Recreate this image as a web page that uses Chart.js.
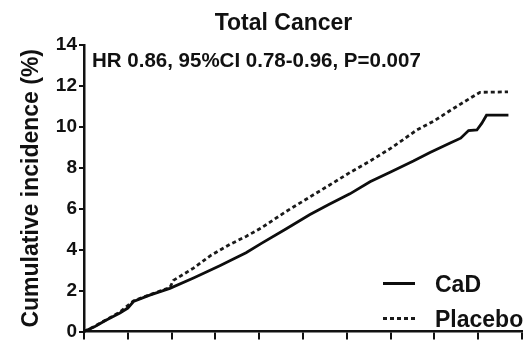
<!DOCTYPE html>
<html>
<head>
<meta charset="utf-8">
<title>Total Cancer</title>
<script src="https://cdn.jsdelivr.net/npm/chart.js@4.4.1/dist/chart.umd.min.js"></script>
<style>
  html, body { margin: 0; padding: 0; background: #ffffff; }
  #wrap { width: 526px; height: 345px; position: relative; }
</style>
</head>
<body>
<div id="wrap"><canvas id="chart" width="526" height="345"></canvas></div>
<script>
// Follow-up time (x) and cumulative incidence in % (y) for each arm
const cadTime = [0, 0.25, 0.5, 0.82, 1.0, 1.13, 1.5, 1.96, 2.5, 3.1, 3.33, 3.7, 4.06, 4.6, 5.16, 5.6, 6.07, 6.53, 7.0, 7.52, 7.9, 8.36, 8.6, 8.78, 8.97, 9.08, 9.19, 9.69];
const cadIncidence = [0, 0.25, 0.55, 0.91, 1.15, 1.47, 1.78, 2.11, 2.62, 3.22, 3.46, 3.85, 4.32, 5.0, 5.72, 6.22, 6.73, 7.32, 7.8, 8.33, 8.75, 9.21, 9.45, 9.82, 9.85, 10.17, 10.57, 10.57];

const placeboTime = [0, 0.25, 0.5, 0.82, 1.13, 1.5, 1.96, 2.04, 2.5, 2.88, 3.33, 3.7, 4.06, 4.6, 5.16, 5.6, 6.07, 6.53, 7.0, 7.6, 8.0, 8.36, 8.7, 9.04, 9.68];
const placeboIncidence = [0, 0.27, 0.57, 0.96, 1.5, 1.8, 2.15, 2.5, 3.1, 3.7, 4.26, 4.65, 5.08, 5.85, 6.58, 7.15, 7.77, 8.33, 8.95, 9.85, 10.3, 10.8, 11.25, 11.69, 11.71];

const yTickValues = [0, 2, 4, 6, 8, 10, 12, 14];
const xTickValues = [0, 1, 2, 3, 4, 5, 6, 7, 8, 9, 10];

const seriesNames = ['CaD', 'Placebo'];
const chartTitle = 'Total Cancer';
const statsNote = 'HR 0.86, 95%CI 0.78-0.96, P=0.007';
const yAxisTitle = 'Cumulative incidence (%)';

const FONT = '"Liberation Sans", Arial, Helvetica, sans-serif';
const INK = '#111111';

function toPoints(xs, ys) {
  return xs.map((x, i) => ({ x: x, y: ys[i] }));
}

// Title, statistics note and in-plot legend
const annotationPlugin = {
  id: 'annotationText',
  afterDraw(chart) {
    const ctx = chart.ctx;
    ctx.save();
    ctx.fillStyle = INK;
    ctx.textBaseline = 'alphabetic';

    ctx.font = 'bold 23px ' + FONT;
    ctx.textAlign = 'center';
    ctx.fillText(chartTitle, 283.5, 29.5);

    ctx.font = 'bold 20.5px ' + FONT;
    ctx.textAlign = 'left';
    ctx.fillText(statsNote, 92, 66.5);

    const rows = [283.5, 318.5];
    chart.data.datasets.forEach((ds, i) => {
      const y = rows[i];
      ctx.beginPath();
      ctx.strokeStyle = ds.borderColor;
      ctx.lineWidth = 3;
      ctx.setLineDash(ds.borderDash || []);
      ctx.moveTo(383, y);
      ctx.lineTo(415, y);
      ctx.stroke();
      ctx.setLineDash([]);
      ctx.font = 'bold 23px ' + FONT;
      ctx.fillStyle = INK;
      ctx.fillText(ds.label, 435, y + 8.3);
    });
    ctx.restore();
  }
};

new Chart(document.getElementById('chart'), {
  type: 'line',
  data: {
    datasets: [
      {
        label: seriesNames[0],
        data: toPoints(cadTime, cadIncidence),
        borderColor: '#0d0d0d',
        borderWidth: 2.8,
        pointRadius: 0,
        tension: 0,
        fill: false
      },
      {
        label: seriesNames[1],
        data: toPoints(placeboTime, placeboIncidence),
        borderColor: '#1a1a1a',
        borderWidth: 2.8,
        borderDash: [4, 3],
        pointRadius: 0,
        tension: 0,
        fill: false
      }
    ]
  },
  options: {
    responsive: false,
    animation: false,
    devicePixelRatio: 1,
    layout: { padding: { top: 45, right: 4, bottom: 0, left: 0 } },
    plugins: {
      legend: { display: false },
      title: { display: false },
      tooltip: { enabled: false }
    },
    scales: {
      x: {
        type: 'linear',
        min: 0,
        max: 10,
        afterBuildTicks: (scale) => { scale.ticks = xTickValues.map(v => ({ value: v })); },
        afterFit: (scale) => { scale.height = 8; },
        ticks: { display: false },
        grid: {
          drawOnChartArea: false,
          drawTicks: true,
          tickLength: 8,
          color: INK,
          lineWidth: 2
        },
        border: { display: true, color: INK, width: 2.5 }
      },
      y: {
        type: 'linear',
        min: 0,
        max: 14,
        afterBuildTicks: (scale) => { scale.ticks = yTickValues.map(v => ({ value: v })); },
        afterFit: (scale) => { scale.width = 84; },
        ticks: {
          color: INK,
          padding: 2,
          font: { family: FONT, size: 19, weight: 'bold' }
        },
        grid: {
          drawOnChartArea: false,
          drawTicks: true,
          tickLength: 5,
          color: INK,
          lineWidth: 2
        },
        border: { display: true, color: INK, width: 2.5 },
        title: {
          display: true,
          text: yAxisTitle,
          color: INK,
          font: { family: FONT, size: 23, weight: 'bold', lineHeight: 1.2 },
          padding: { top: 18, bottom: 0 }
        }
      }
    }
  },
  plugins: [annotationPlugin]
});
</script>
</body>
</html>
